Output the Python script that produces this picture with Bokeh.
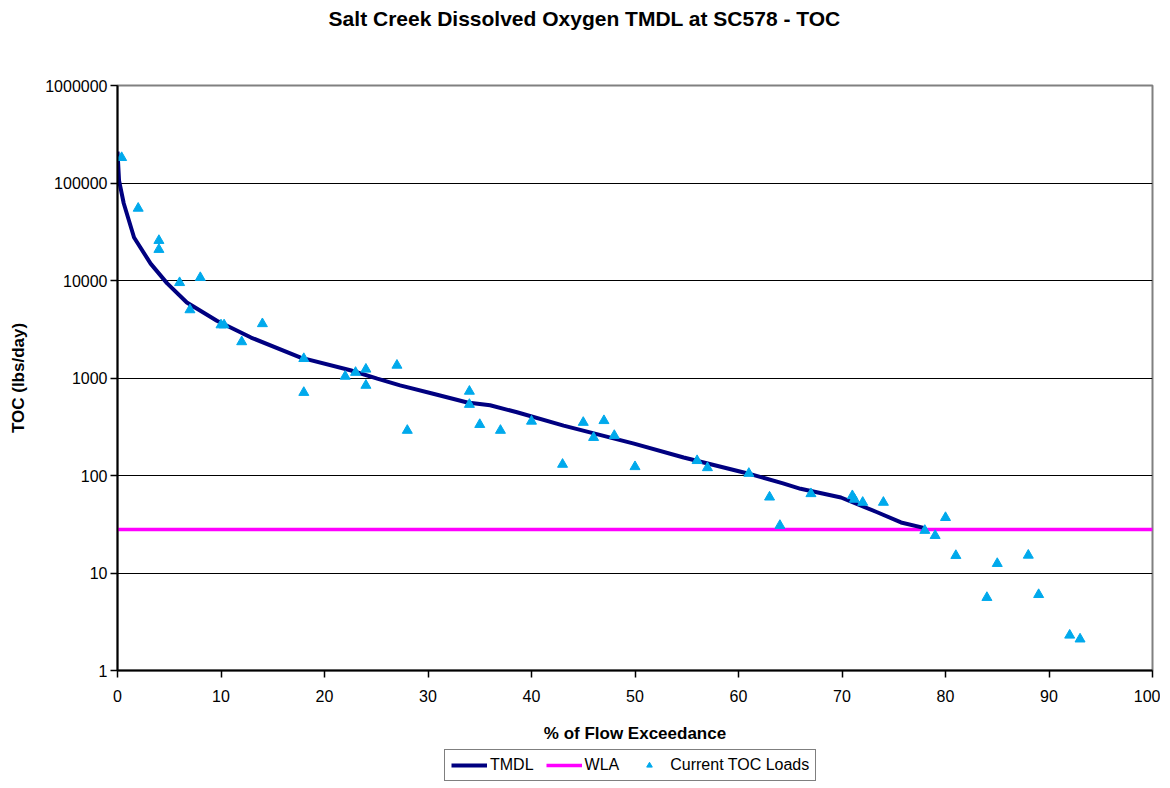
from bokeh.plotting import figure
from bokeh.models import (FixedTicker, CustomJSTickFormatter, Legend, LegendItem,
                          Range1d)
from bokeh.core.properties import value
from bokeh.layouts import column
from bokeh.embed import file_html
from bokeh.resources import INLINE

# ---- data ----
title_text = "Salt Creek Dissolved Oxygen  TMDL at SC578 - TOC"

tmdl_x = [0, 0.15, 0.6, 1.6, 3.2, 4.8, 6.7, 9.6, 12.9, 17.7, 22.5, 25.1, 27.3, 30.5,
          33.8, 36.0, 38.6, 43.1, 49.9, 54.7, 60.9, 64.3, 66.0, 69.9, 73.4, 75.7, 77.9]
tmdl_y = [210000, 106000, 62000, 27600, 14900, 9350, 5950, 3870, 2600, 1620, 1200, 985,
          840, 690, 560, 525, 445, 325, 212, 153, 105, 83, 73, 59.5, 42, 33, 29]

wla_x = [0, 100]
wla_y = [28, 28]

load_x = [0.4, 2, 4, 4, 6, 7, 8, 10, 10.3, 12, 14, 18, 18, 22, 23, 24, 24, 27, 28, 34,
          34, 35, 37, 40, 43, 45, 46, 47, 48, 50, 56, 57, 61, 63, 64, 67, 71, 71.2, 72,
          74, 78, 79, 80, 81, 84, 85, 88, 89, 92, 93]
load_y = [182000, 55000, 25700, 20800, 9500, 5000, 10700, 3500, 3500, 2350, 3600, 1580,
          710, 1040, 1140, 1230, 840, 1350, 290, 730, 535, 333, 290, 360, 130, 350, 245,
          365, 257, 123, 142, 120, 105, 60, 30.7, 65, 62, 57, 53, 53, 27.3, 24.2, 37,
          15.1, 5.6, 12.5, 15.2, 6.0, 2.3, 2.1]

x_ticks = [0, 10, 20, 30, 40, 50, 60, 70, 80, 90, 100]
y_ticks = [1, 10, 100, 1000, 10000, 100000, 1000000]

FONT = "Liberation Sans"
NAVY = "#000080"
MAGENTA = "#FF00FF"
SKY = "#00A9EC"
W = 1160
FRAME_L, FRAME_R = 117, 1152

# ---- title strip (its frame is aligned with the chart frame by the column) ----
tf = figure(width=W, height=36, x_range=Range1d(FRAME_L, FRAME_R),
            y_range=Range1d(0, 36),
            output_backend="svg", toolbar_location=None,
            min_border_left=FRAME_L, min_border_right=W - FRAME_R,
            min_border_top=0, min_border_bottom=0)
tf.axis.visible = False
tf.grid.grid_line_color = None
tf.outline_line_color = None
tf.text(x=[587], y=[18], text=[title_text], text_align="center",
        text_baseline="middle", text_font=value(FONT), text_font_size="21px",
        text_font_style="bold", text_color="black")

# ---- main chart ----
p = figure(width=W, height=709, y_axis_type="log",
           x_range=Range1d(0, 100), y_range=Range1d(1, 1000000),
           output_backend="svg", toolbar_location=None,
           min_border_left=FRAME_L, min_border_right=W - FRAME_R,
           min_border_top=49, min_border_bottom=75)

p.outline_line_color = "#808080"
p.outline_line_width = 2

p.xaxis.ticker = FixedTicker(ticks=x_ticks)
p.yaxis.ticker = FixedTicker(ticks=y_ticks)
p.yaxis.formatter = CustomJSTickFormatter(code="return tick.toFixed(0);")
for ax in (p.xaxis[0], p.yaxis[0]):
    ax.axis_line_color = "black"
    ax.axis_line_width = 2
    ax.major_tick_line_color = "black"
    ax.major_tick_line_width = 1.5
    ax.major_tick_in = 0
    ax.major_tick_out = 7
    ax.minor_tick_line_color = None
    ax.major_label_text_font = FONT
    ax.major_label_text_font_size = "16px"
    ax.major_label_text_color = "black"
    ax.axis_label_text_font = FONT
    ax.axis_label_text_font_size = "17px"
    ax.axis_label_text_font_style = "bold"
    ax.axis_label_text_color = "black"
p.xaxis.axis_label = "% of Flow Exceedance"
p.yaxis.axis_label = "TOC (lbs/day)"
p.xaxis.major_label_standoff = 12
p.xaxis.axis_label_standoff = 19
p.yaxis.major_label_standoff = 3
p.yaxis.axis_label_standoff = 14

p.xgrid.grid_line_color = None
p.ygrid.ticker = FixedTicker(ticks=[10, 100, 1000, 10000, 100000])
p.ygrid.grid_line_color = "black"
p.ygrid.grid_line_width = 1.2

p.line(wla_x, wla_y, line_color=MAGENTA, line_width=3.5)
p.line(tmdl_x, tmdl_y, line_color=NAVY, line_width=4)
p.scatter(load_x, load_y, marker="triangle", size=10,
          fill_color=SKY, line_color=SKY)

# ---- legend strip (same series, drawn out of its view range) ----
lg = figure(width=W, height=36, x_range=Range1d(0, 1), y_range=Range1d(-1, 0),
            output_backend="svg", toolbar_location=None,
            min_border_left=FRAME_L, min_border_right=W - FRAME_R,
            min_border_top=0, min_border_bottom=0)
lg.axis.visible = False
lg.grid.grid_line_color = None
lg.outline_line_color = None
r1 = lg.line(tmdl_x, tmdl_y, line_color=NAVY, line_width=4)
r2 = lg.line(wla_x, wla_y, line_color=MAGENTA, line_width=3.5)
r3 = lg.scatter(load_x, load_y, marker="triangle", size=8,
                fill_color=SKY, line_color=SKY)
legend = Legend(items=[LegendItem(label="TMDL", renderers=[r1]),
                       LegendItem(label="WLA", renderers=[r2]),
                       LegendItem(label="Current TOC Loads", renderers=[r3])],
                orientation="horizontal", location=(444 - FRAME_L, 0),
                border_line_color="black", border_line_width=1,
                label_text_font=FONT, label_text_font_size="16px",
                label_text_color="black",
                glyph_width=36, glyph_height=14, label_standoff=3,
                spacing=12, padding=6, margin=0)
lg.add_layout(legend, "center")

layout = column(tf, p, lg, spacing=0)
open("out.html", "w").write(file_html(layout, INLINE))
